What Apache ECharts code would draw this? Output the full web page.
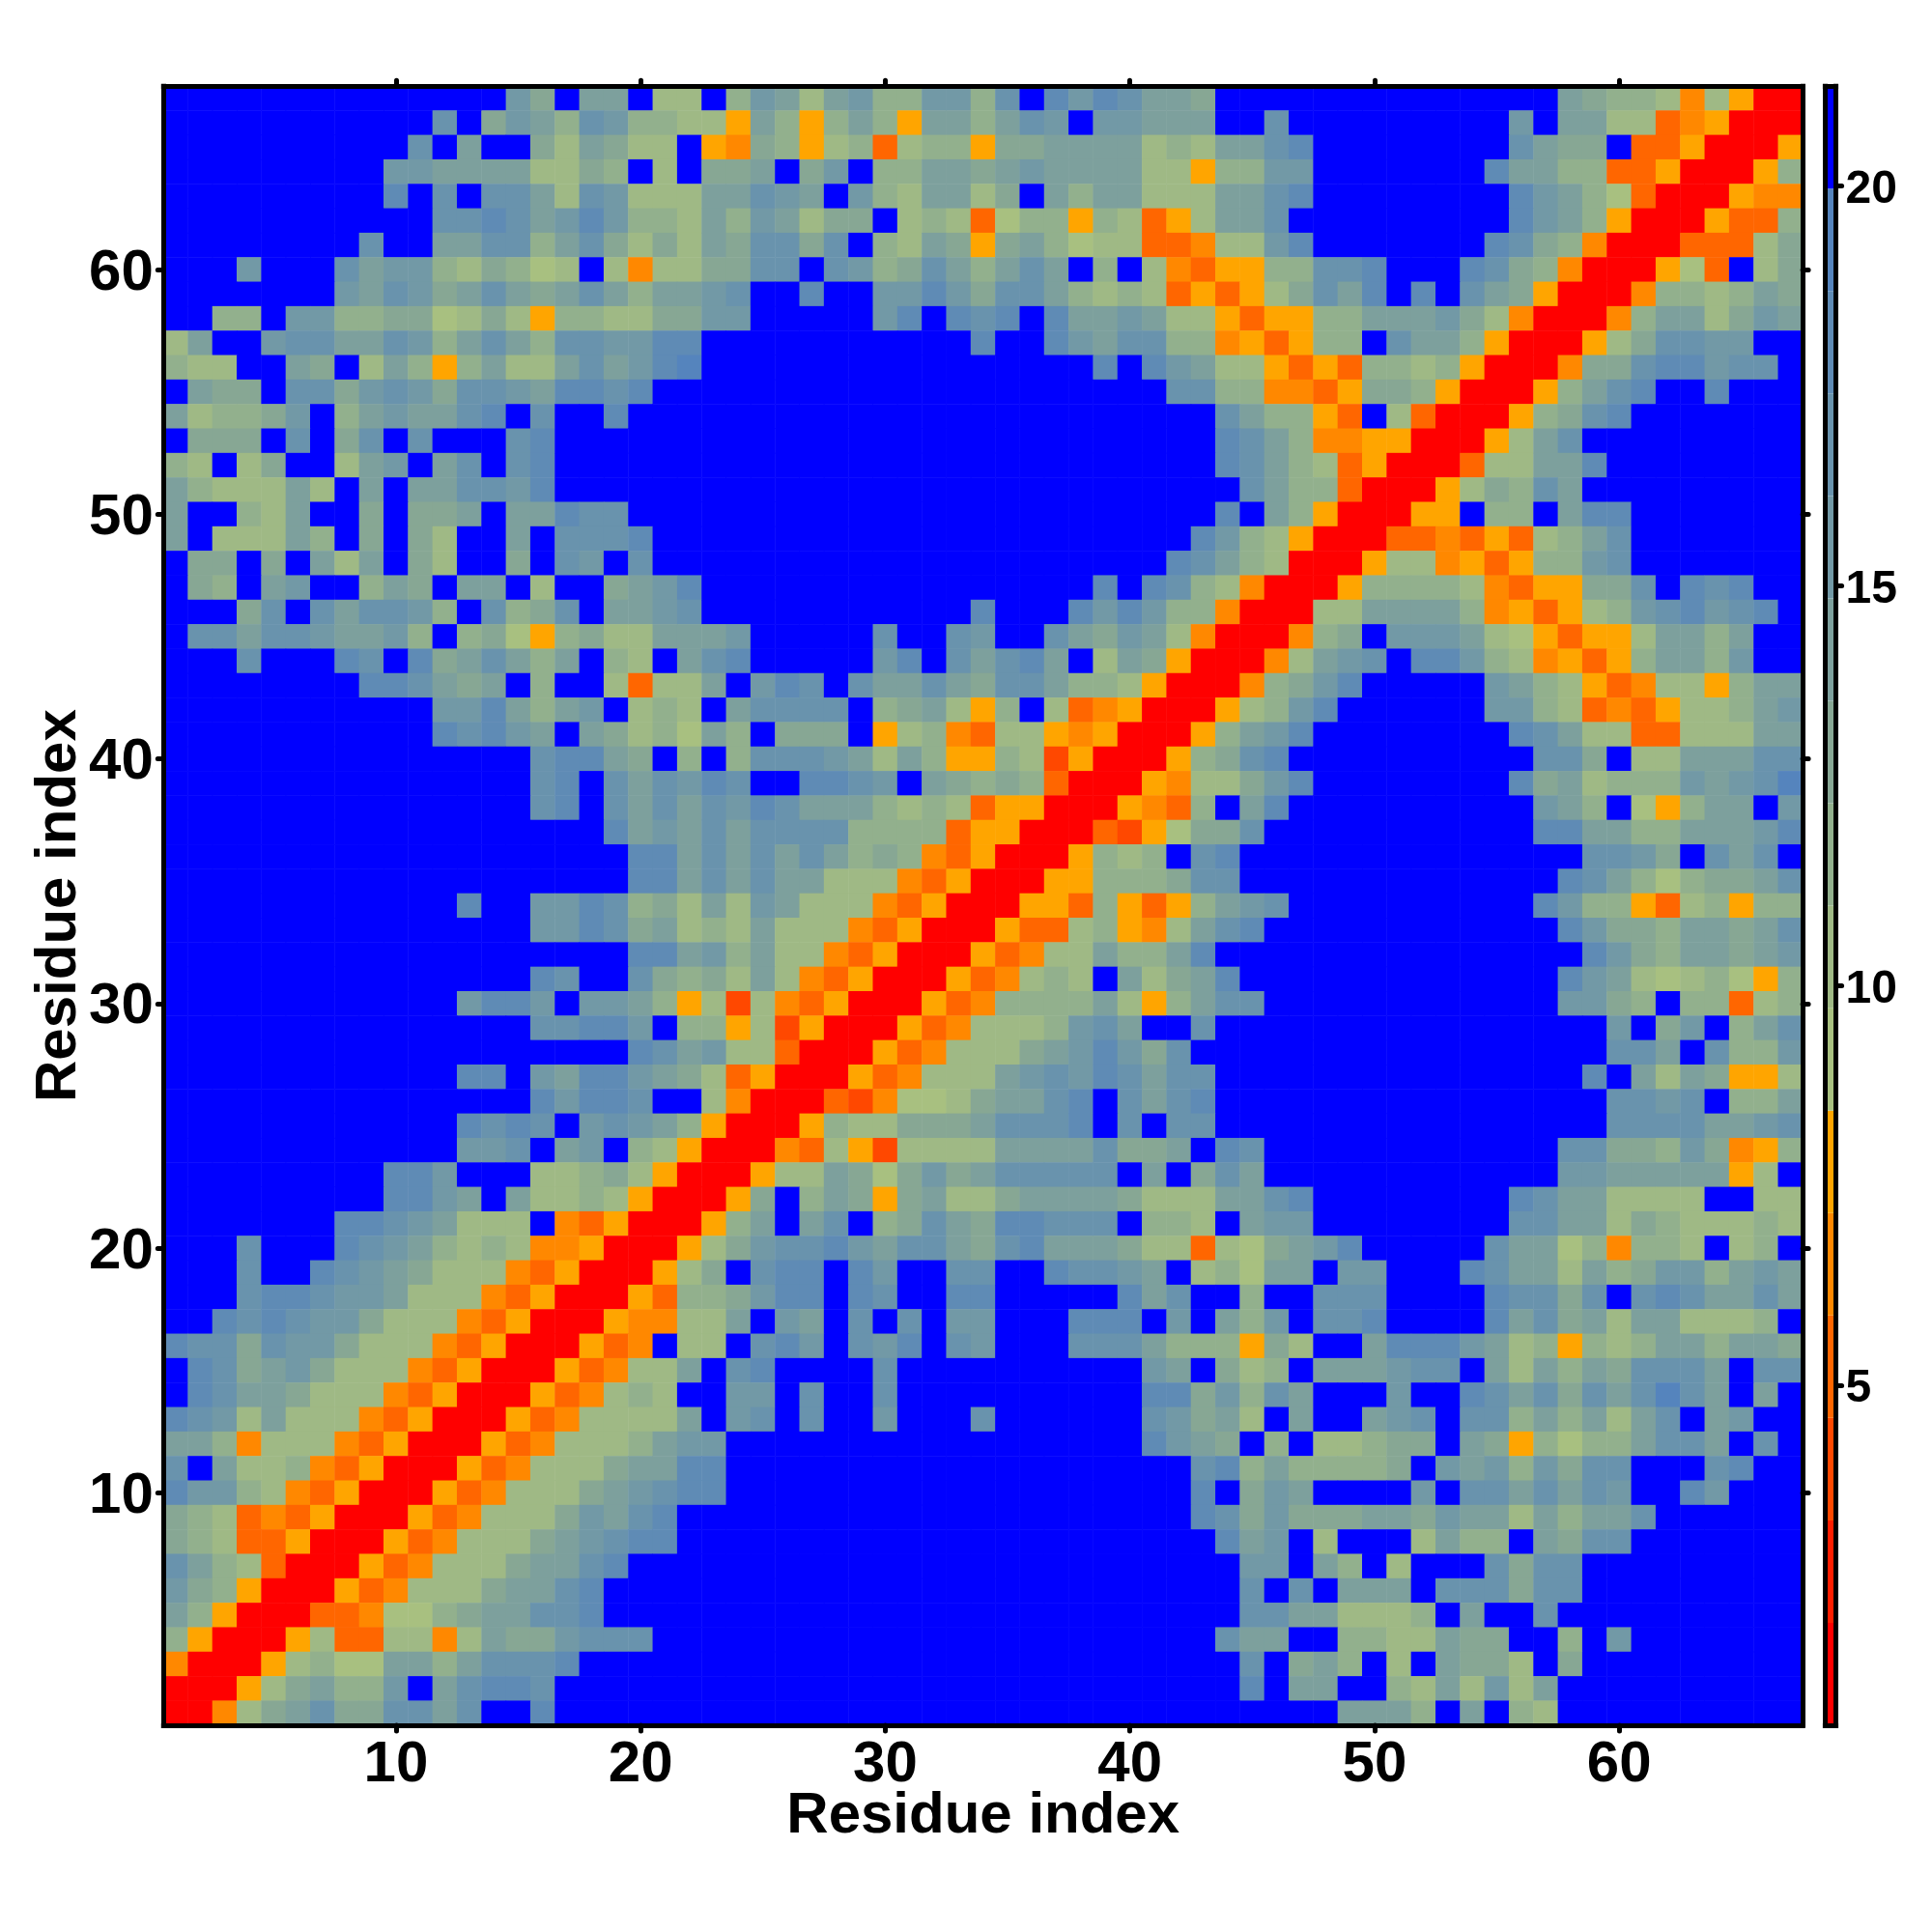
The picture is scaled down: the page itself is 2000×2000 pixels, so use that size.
<!DOCTYPE html>
<html>
<head>
<meta charset="utf-8">
<style>html,body{margin:0;padding:0;background:#fff}#chart{width:2000px;height:2000px}</style>
<script src="https://cdn.jsdelivr.net/npm/echarts@6/dist/echarts.min.js"></script>
</head>
<body>
<div id="chart"></div>
<script>
// Distance matrix, one hex digit per cell = colour band (0 closest, f farthest).
// First string is residue 67 (top row), last string is residue 1 (bottom row).
var bandRows = [
"ffffffffff ffffb9faaf 77f8ba7ab8 8bb8cfdbdc aa9fffffff fffffffa98 8747500",
"ffffffffff fcf9ba8cb8 8775a858a8 5aa8acbfbb aaaffcffff fffffbfaa7 7345000",
"ffffffffff cfaff97a97 7f54985783 788599aaaa 787aacdfff fffffca99f 3350005",
"fffffffffb baaaa7798f 7f99af9bf8 8aa9abaaaa 77588bbfff ffffdaa883 3500058",
"fffffffffd fcfcca7cb7 77aacbafb8 7aa79fa8aa 777aacdfff fffffdba86 3000544",
"ffffffffff fccdcabdb8 87a8ba799f 7873688587 357aacffff fffffdba85 0005338",
"ffffffffcf faacc8ac97 97a9cc9cf8 7a959a8677 33477bdfff ffffdc9840 0033379",
"fffbfffcab b879867f74 7799ccfcb8 9ca8acaf8f 7435588ccd fffdc98400 0563f79",
"fffffffbac b9aca9aca8 aabcffdffb bdb9cca878 7353579cad fdfca95000 48878a9",
"ff88fbb889 9679758877 99bbfffffb dfdcdfdaab a77535588a aab9740004 8aa79ba",
"7affbccaac b8aca8ccbb ddffffffff fffdffdbac c88453588f caa8500057 9ccbbff",
"877ffa9f7a 858a77acab deffffffff ffffffffdf dba7753538 8785000499 cddbccf",
"fa99fcc9bc b9ccbaddcd ffffffffff ffffffffff fcc8844359 98500058ac dffdfff",
"a7889bf8ab aacdfcffdf ffffffffff ffffffffff fffca8853f 73000589cd fffffff",
"f999fcf9cf cfffcdffff ffffffffff ffffffffff fffdca8445 500057acff fffffff",
"87f79ff7ab facfcdffff ffffffffff ffffffffff fffdca8735 000377aadf fffffff",
"a8777a7faf aaccbdffff ffffffffff ffffffffff ffffca8830 005798caff fffffff",
"aff87aff9f 99afaadccf ffffffffff ffffffffff fffdfa8500 055f88fadd fffffff",
"af777a8f9f 97ffafcccd ffffffffff ffffffffff ffdb875000 33435378ac fffffff",
"f99f9fa7af 97ff9fcbfc ffffffffff ffffffffff fdca870005 77453588bc fffffff",
"f98fabff8a 9faaf7ff9a bdffffffff ffffffffdf dc87400058 8887435599 cfdcdff",
"fff9cfcacc b8fc89cfaa bcffffffff fffdfffdbd b88400077a aaa8453578 bcdbcdf",
"fccaccbaab 8f89658977 aaabfffffc ffcbffca9b a74000489f bbba765355 7aa8aff",
"fffcfffdcf d9aca8af87 facdfffffb dfcacdaf7a 9500047abc fddb874535 8aa8bff",
"ffffffffdd ca9af8ff73 77afbdcfca aca9cca887 5000489bdf ffffba8753 47758aa",
"ffffffffff fbbda8abf7 87faccccf8 9a758f7345 000578bdff ffffbb8734 35778ab",
"ffffffffff fdcdbafa97 86a8f999f5 7843775450 0058abdfff fffffdca77 33777aa",
"ffffffffff fffffcdda9 f8f8cccba7 a855872500 0589cdffff ffffffcc9f 77aaacc",
"ffffffffff fffffcdfca cbdcffddcb fa98983000 54779bdfff fffffd9a78 88babce",
"ffffffffff fffffcdfca cacbdcaaa8 7873550005 438fadffff ffffffba8f 658aafb",
"ffffffffff ffffffffda bacacccc88 8835500032 5699cfffff ffffffddaa 88aaabd",
"ffffffffff fffffffffd dacacaca89 8435000587 8fcdffffff ffffffffcc b9fcacf",
"ffffffffff fffffffffd dacacaa777 4350005588 89ccffffff fffffffdca 86899ac",
"ffffffffff ffdffbbdc8 97a7ba7774 3500055385 358abcffff ffffffdb88 5378588",
"ffffffffff fffffbbdc9 a787a77743 5000533785 47acdfffff fffffffdb9 98aa9ac",
"ffffffffff fffffffffd dab8a77435 00053477a8 8adfffffff ffffffffdb 98aa9ab",
"ffffffffff fffffdcffc 9897a74350 00534787fa 79adffffff fffffffdba 7678658",
"ffffffffff ffbddbfbba 8572743500 05348888a7 58accfffff fffffffbb9 8f88378",
"ffffffffff fffffccddb f885725000 5347778bca ffcfffffff fffffffffb f9bf8ac",
"ffffffffff fffffffffd cab7730005 347779abdb 9cffffffff fffffffffc cafc88b",
"ffffffffff ffddfbaddb a973500053 4777abcbdc accfffffff ffffffffdf a7a9557",
"ffffffffff fffffdbddc ff74000324 6679aacdfc acdfffffff fffffffffc cbcf88a",
"ffffffffff ffdcdcfbcb a850005877 999acccdfc fccfffffff fffffffffc cccaabc",
"ffffffffff ffbbcfabf8 7500043752 7777aaaac9 9afdcfffff fffffffcc9 98b9458",
"fffffffffd dbfff77897 5000577a96 9b9acccccf af9cafffff fffffffbba aaaa57f",
"fffffffffd dbafa77875 00059f8a95 9a779aaaa9 777aacdfff fffffdcaa7 777ff77",
"fffffffddc ba777f4350 0058afacf8 9ca9ddcccf 887fabbfff fffffccaa7 9877787",
"fffcfffdcb a878744500 0579bccdba cca9cdaaa9 773769abdf ffffcaa684 887f78f",
"fffcffdcba 9777435000 579fcddfdb ffccffdccb af786aafbb fffdcaa7a8 9bb8aba",
"fffcddcbba 7774350005 3889bddfdc ffddfffffd acff8ffccc ffffdcc9cf cdcaaca",
"ffdcdcbb97 7743500054 477afbafcf cfbbfffddd fbfa8bfccd ffffdac9a7 aa7778f",
"dcc9cbb977 7435000534 f77fcdbfcb dfcbfffccc a888597ffa dddba78587 8aa8aa9",
"fdc9ab9777 4350005347 7afcdffffc ffffffffff baf978faaa bccfa7a8a9 cccafcc",
"fdcaa97774 3500053478 7ffbbfcffc ffffffffff dd9b8cafff bffdcac9ca cecafaf",
"dcb7a77743 5000534777 7afbcfcffb fffcffffff cb9a7faffa bcfcc8a8a7 acfabff",
"aa84777435 0005347778 abbfffffff ffffffffff dba9f8f778 99fa958688 accafcf",
"cfa7784350 005347779a addfffffff ffffffffff ffcd8a8888 9fbab8b9cc fffcdff",
"dbb8743500 05347779ab cddfffffff ffffffffff ffdf9bafff fbfccacacb ffdbfff",
"9873435000 5347779bac dfffffffff ffffffffff ffdc9b999a a9baa7a8aa cffffff",
"9873350005 347779abcd dfffffffff ffffffffff fffdabf7ff f7a88fa9cc fffffff",
"ca87300053 47779aacdf ffffffffff ffffffffff ffffbbfa8f 7fffc9ccff fffffff",
"b985000534 7779aacdff ffffffffff ffffffffff ffffcfcfaa afccc9ccff fffffff",
"a850003346 689aaccdff ffffffffff ffffffffff ffffccaa77 78faffcfff fffffff",
"8500057337 747a99bccc ffffffffff ffffffffff fffcaaff88 77a99ff8fb fffffff",
"400057866a a8acccdfff ffffffffff ffffffffff ffffcf9a8f 7fa997f9ff fffffff",
"000579a88b facddcffff ffffffffff ffffffffff ffffdfaaff 87a7b7afff fffffff",
"00479ac99c cacffdffff ffffffffff ffffffffff ffffffffaa a8faf87fff fffffff"
];
var bandColors = ["#ff0000","#ff1e00","#ff4800","#ff6600","#ff8800","#ffa500",
                  "#a8c080","#9fb985","#92b08d","#87a794","#7da09d","#7299a6",
                  "#6993ad","#5f8bb5","#5584bd","#0000ff"];
var scaleMin = 0.75, scaleMax = 21.25;
var residueTicks = [10,20,30,40,50,60];
var scaleTicks = [5,10,15,20];
var axisTitle = "Residue index";

var FONT = '"Liberation Sans", Arial, sans-serif';
var bandStep = (scaleMax - scaleMin) / bandColors.length;
var residues = [];
for (var i = 1; i <= bandRows.length; i++) residues.push(String(i));

var cells = [];
bandRows.forEach(function (raw, r) {
  var row = raw.replace(/ /g, "");
  if (row.length !== 67) throw new Error("row " + (67 - r) + " has " + row.length);
  for (var c = 0; c < row.length; c++) {
    cells.push([c, 66 - r, scaleMin + (parseInt(row[c], 16) + 0.5) * bandStep]);
  }
});

var bands = bandColors.map(function (col, i) {
  return { lo: scaleMin + i * bandStep, hi: scaleMin + (i + 1) * bandStep, color: col };
});

function isTick(i, v) { return residueTicks.indexOf(Number(v)) >= 0; }
var frameLine = { show: true, onZero: false, lineStyle: { color: "#000", width: 5, cap: "square" } };
var tickDot = { lineStyle: { color: "#000", width: 5, cap: "round" } };

// Labels on vertical axes sit a little under their tick, done with a padded rich token.
function loweredLabel(size) {
  return {
    formatter: function (v) { return "{d|" + v + "}"; },
    rich: { d: { color: "#000", fontFamily: FONT, fontWeight: "bold", fontSize: size, padding: [8, 0, 0, 0] } }
  };
}

function residueAxis(pos, showLabel, labelExtra, extra) {
  return Object.assign({
    type: "category", gridIndex: 0, position: pos, data: residues, z: 6,
    axisLine: frameLine,
    axisTick: Object.assign({ show: true, alignWithLabel: true, interval: isTick, length: 6, inside: false }, tickDot),
    axisLabel: Object.assign({ show: showLabel, interval: isTick, color: "#000", fontFamily: FONT, fontWeight: "bold", fontSize: 60, margin: 13 }, labelExtra || {}),
    splitLine: { show: false }
  }, extra || {});
}
function nameStyle() {
  return { color: "#000", fontFamily: FONT, fontWeight: "bold", fontSize: 60 };
}

var option = {
  animation: false,
  backgroundColor: "#ffffff",
  grid: [
    { left: 169.3, top: 89.2, width: 1696.8, height: 1696.8, containLabel: false, outerBoundsMode: "none" },
    { left: 1889.4, top: 89.2, width: 11.2, height: 1696.8, containLabel: false, outerBoundsMode: "none" }
  ],
  xAxis: [
    residueAxis("bottom", true, { margin: 11 }, { name: axisTitle, nameLocation: "middle", nameGap: 64, nameMoveOverlap: false, nameTextStyle: nameStyle() }),
    residueAxis("top", false),
    { type: "value", gridIndex: 1, position: "bottom", min: 0, max: 1, z: 6, axisLine: frameLine, axisTick: { show: false }, axisLabel: { show: false }, splitLine: { show: false } },
    { type: "value", gridIndex: 1, position: "top", min: 0, max: 1, z: 6, axisLine: frameLine, axisTick: { show: false }, axisLabel: { show: false }, splitLine: { show: false } }
  ],
  yAxis: [
    residueAxis("left", true, Object.assign({ margin: 10.5 }, loweredLabel(60)), { name: axisTitle, nameLocation: "middle", nameGap: 78, nameRotate: 90, nameMoveOverlap: false, nameTextStyle: nameStyle() }),
    residueAxis("right", false),
    { type: "value", gridIndex: 1, position: "right", min: scaleMin, max: scaleMax, z: 6,
      axisLine: frameLine,
      axisTick: Object.assign({ show: true, length: 6, customValues: scaleTicks }, tickDot),
      axisLabel: Object.assign({ show: true, customValues: scaleTicks, color: "#000", fontFamily: FONT, fontWeight: "bold", fontSize: 48, margin: 10 }, loweredLabel(48)),
      splitLine: { show: false } },
    { type: "value", gridIndex: 1, position: "left", min: scaleMin, max: scaleMax, z: 6, axisLine: frameLine, axisTick: { show: false }, axisLabel: { show: false }, splitLine: { show: false } }
  ],
  visualMap: {
    show: false, type: "piecewise", seriesIndex: 0, dimension: 2,
    pieces: bands.map(function (b) { return { gte: b.lo, lt: b.hi, color: b.color }; })
  },
  series: [
    { type: "heatmap", xAxisIndex: 0, yAxisIndex: 0, data: cells, progressive: 0,
      itemStyle: { borderWidth: 0 }, emphasis: { disabled: true } },
    { type: "custom", xAxisIndex: 2, yAxisIndex: 2, clip: true,
      data: bands.map(function (b) { return [b.lo, b.hi, b.color]; }),
      encode: { y: [0, 1] },
      renderItem: function (params, api) {
        var a = api.coord([0, api.value(1)]);
        var b = api.coord([1, api.value(0)]);
        return { type: "rect",
          shape: { x: a[0], y: a[1], width: b[0] - a[0], height: b[1] - a[1] },
          style: { fill: bands[params.dataIndex].color } };
      } }
  ]
};
var chart = echarts.init(document.getElementById("chart"), null, { renderer: "canvas" });
chart.setOption(option);
</script>
</body>
</html>
